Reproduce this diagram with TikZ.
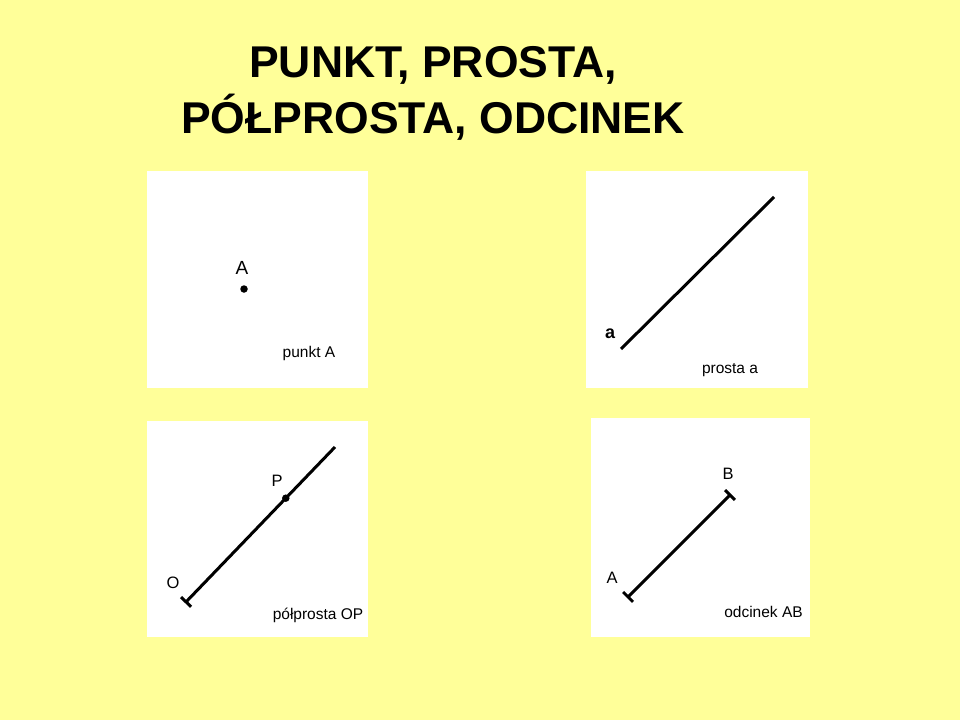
\documentclass[tikz,border=0pt]{standalone}
\usepackage{fontspec}
\setmainfont{Liberation Sans}
\usetikzlibrary{arrows.meta,calc}
\definecolor{tlo}{HTML}{FFFF99}
\tikzset{
	plansza/.style={fill=white},
	linia/.style={line width=3pt},
	kropka/.style={circle,fill=black,inner sep=0pt,minimum size=7.5pt},
	opis/.style={anchor=base,inner sep=0pt,font=\fontsize{15.5}{18}\selectfont},
	etykieta/.style={anchor=base,inner sep=0pt,font=\fontsize{16.5}{19}\selectfont},
	tytul/.style={anchor=base,inner sep=0pt,font=\bfseries\fontsize{44.5}{52}\selectfont}
}
\begin{document}
\begin{tikzpicture}[x=1pt,y=-1pt]
				\fill[tlo] (0,0) rectangle (960,720);
				\useasboundingbox (0,0) rectangle (960,720);
				\node[tytul] (tytul1) at (433,77) {PUNKT, PROSTA,};
				\node[tytul] (tytul2) at (433,133) {PÓŁPROSTA, ODCINEK};
				\fill[plansza] (147,171) rectangle (368,388);
				\fill[plansza] (586,171) rectangle (808,388);
				\fill[plansza] (147,421) rectangle (368,637);
				\fill[plansza] (591,418) rectangle (810,637);
				% punkt
				\node[kropka] (pA) at (244,289) {};
				\node[etykieta,font=\fontsize{19}{22}\selectfont] (lA) at (242,274) {A};
				\node[opis] (opis1) at (309,357.5) {punkt A};
				% prosta
				\coordinate (a1) at (621,349);
				\coordinate (a2) at (774,197);
				\draw[linia] (a1) -- (a2);
				\node[etykieta,font=\bfseries\fontsize{18}{22}\selectfont] (la) at (610,338) {a};
				\node[opis] (opis2) at (730,373) {prosta a};
				% polprosta
				\coordinate (O) at (185,603);
				\coordinate (k) at (335,447);
				\draw[linia,{Bar[width=14pt]}-] (O) -- (k);
				\node[kropka] (P) at ($(O)!0.672!(k)$) {};
				\node[etykieta] (lP) at (277,486) {P};
				\node[etykieta] (lO) at (173,588) {O};
				\node[opis] (opis3) at (318,619) {półprosta OP};
				% odcinek
				\coordinate (A) at (627,598);
				\coordinate (B) at (731,494);
				\draw[linia,{Bar[width=14pt]}-{Bar[width=14pt]}] (A) -- (B);
				\node[etykieta] (lB) at (728,479) {B};
				\node[etykieta] (lA2) at (612,583) {A};
				\node[opis] (opis4) at (763.5,617) {odcinek AB};
\end{tikzpicture}
\end{document}
